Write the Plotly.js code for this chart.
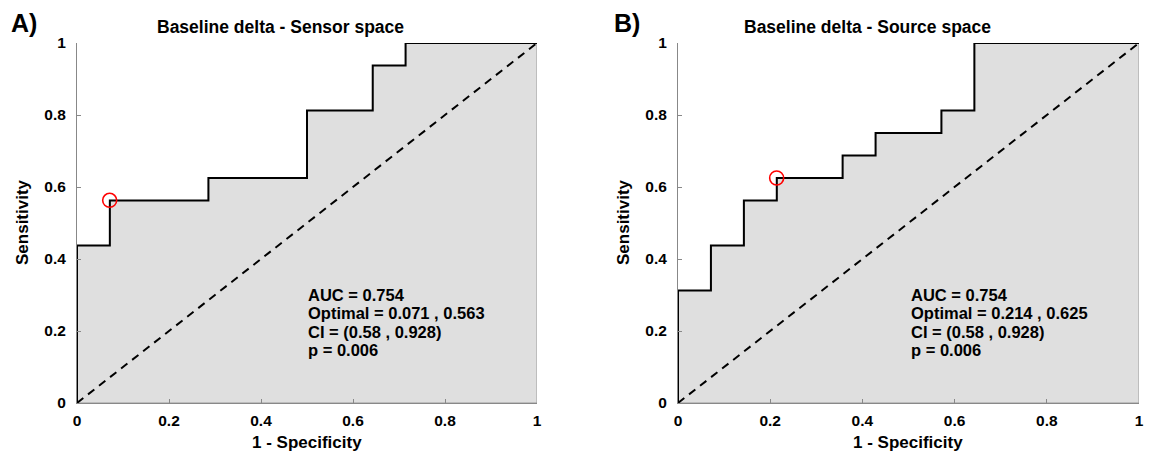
<!DOCTYPE html>
<html><head><meta charset="utf-8">
<script src="https://cdn.plot.ly/plotly-3.0.1.min.js"></script>
<style>html,body{margin:0;padding:0;background:#fff}</style>
</head><body>
<div id="chart" style="width:1152px;height:455px"></div>
<script>
// ROC step vertices, panel A (sensor space)
const fprA = [0, 0, 0.0714, 0.0714, 0.2857, 0.2857, 0.5, 0.5, 0.6429, 0.6429, 0.7143, 0.7143, 1];
const tprA = [0, 0.4375, 0.4375, 0.5625, 0.5625, 0.625, 0.625, 0.8125, 0.8125, 0.9375, 0.9375, 1, 1];
// ROC step vertices, panel B (source space)
const fprB = [0, 0, 0.0714, 0.0714, 0.1429, 0.1429, 0.2143, 0.2143, 0.3571, 0.3571, 0.4286, 0.4286, 0.5714, 0.5714, 0.6429, 0.6429, 1];
const tprB = [0, 0.3125, 0.3125, 0.4375, 0.4375, 0.5625, 0.5625, 0.625, 0.625, 0.6875, 0.6875, 0.75, 0.75, 0.8125, 0.8125, 1, 1];
// optimal operating points
const optA = [0.071, 0.563];
const optB = [0.214, 0.625];
// chance diagonal
const diagX = [0, 1];
const diagY = [0, 1];
// stats text
const statsA = ["AUC = 0.754", "Optimal = 0.071 , 0.563", "CI = (0.58 , 0.928)", "p = 0.006"];
const statsB = ["AUC = 0.754", "Optimal = 0.214 , 0.625", "CI = (0.58 , 0.928)", "p = 0.006"];
const titles = ["Baseline delta - Sensor space", "Baseline delta - Source space"];
const panelLabels = ["A)", "B)"];
const xTitle = "1 - Specificity";
const yTitle = "Sensitivity";
const tickVals = [0, 0.2, 0.4, 0.6, 0.8, 1];
const tickText = ["0", "0.2", "0.4", "0.6", "0.8", "1"];

const FONT = "Liberation Sans, Arial, sans-serif";
const W = 1152, H = 455;

function panel(fpr, tpr, opt, xa, ya) {
  return [
    {x: fpr.concat([1, 0]), y: tpr.concat([0, 0]), xaxis: xa, yaxis: ya, mode: 'lines',
     fill: 'toself', fillcolor: '#dfdfdf', line: {color: '#9a9a9a', width: 1}, hoverinfo: 'skip'},
    {x: diagX, y: diagY, xaxis: xa, yaxis: ya, mode: 'lines',
     line: {color: '#000', width: 2, dash: '8px,6px'}},
    {x: fpr, y: tpr, xaxis: xa, yaxis: ya, mode: 'lines', line: {color: '#000', width: 2}},
    {x: [opt[0]], y: [opt[1]], xaxis: xa, yaxis: ya, mode: 'markers',
     marker: {symbol: 'circle-open', size: 14, color: '#ff0000', line: {width: 1.6, color: '#ff0000'}}}
  ];
}

const data = panel(fprA, tprA, optA, 'x', 'y').concat(panel(fprB, tprB, optB, 'x2', 'y2'));

const tickFont = {family: FONT, size: 15.5, color: '#000', weight: 'bold'};
function xaxis(dom, anchor) {
  return {domain: dom, anchor: anchor, range: [0, 1], tickvals: tickVals, ticktext: tickText,
    ticks: 'inside', ticklen: 4, tickcolor: '#888', showline: true, linecolor: '#888', linewidth: 1,
    showgrid: false, zeroline: false, ticklabelstandoff: 3, tickfont: tickFont};
}
function yaxis(dom, anchor) {
  return {domain: dom, anchor: anchor, range: [0, 1], tickvals: tickVals, ticktext: tickText,
    ticks: 'inside', ticklen: 4, tickcolor: '#888', showline: true, linecolor: '#888', linewidth: 1,
    showgrid: false, zeroline: false, ticklabelstandoff: 7, tickfont: tickFont};
}

const yd = [1 - 403 / H, 1 - 43 / H];
const xdA = [77 / W, 537 / W];
const xdB = [678 / W, 1139 / W];

function px(x) { return x / W; }
function py(y) { return 1 - y / H; }
function ann(x, y, text, size, xanchor, extra) {
  return Object.assign({xref: 'paper', yref: 'paper', x: px(x), y: py(y), text: text, showarrow: false,
    xanchor: xanchor, yanchor: 'middle', font: {family: FONT, size: size, color: '#000', weight: 'bold'}}, extra || {});
}

const annotations = [];
const panels = [
  {title: titles[0], tx: 280, lab: panelLabels[0], lx: 9, stats: statsA, sx: 306, xc: 307, yx: 22},
  {title: titles[1], tx: 867, lab: panelLabels[1], lx: 612, stats: statsB, sx: 909, xc: 908, yx: 623}
];
panels.forEach(p => {
  annotations.push(ann(p.tx, 27, p.title, 17.5, 'center'));
  annotations.push(ann(p.lx, 23, p.lab, 25, 'left'));
  p.stats.forEach((s, i) => annotations.push(ann(p.sx, 295 + i * 18.3, s, 16.5, 'left')));
  annotations.push(ann(p.xc, 442, xTitle, 17, 'center'));
  annotations.push(ann(p.yx, 222, yTitle, 17, 'center', {textangle: -90}));
});

const layout = {
  width: W, height: H, margin: {l: 0, r: 0, t: 0, b: 0},
  paper_bgcolor: '#fff', plot_bgcolor: 'rgba(0,0,0,0)', showlegend: false,
  xaxis: xaxis(xdA, 'y'), yaxis: yaxis(yd, 'x'),
  xaxis2: xaxis(xdB, 'y2'), yaxis2: yaxis(yd, 'x2'),
  annotations: annotations
};

Plotly.newPlot('chart', data, layout, {displayModeBar: false, staticPlot: true});
</script>
</body></html>
